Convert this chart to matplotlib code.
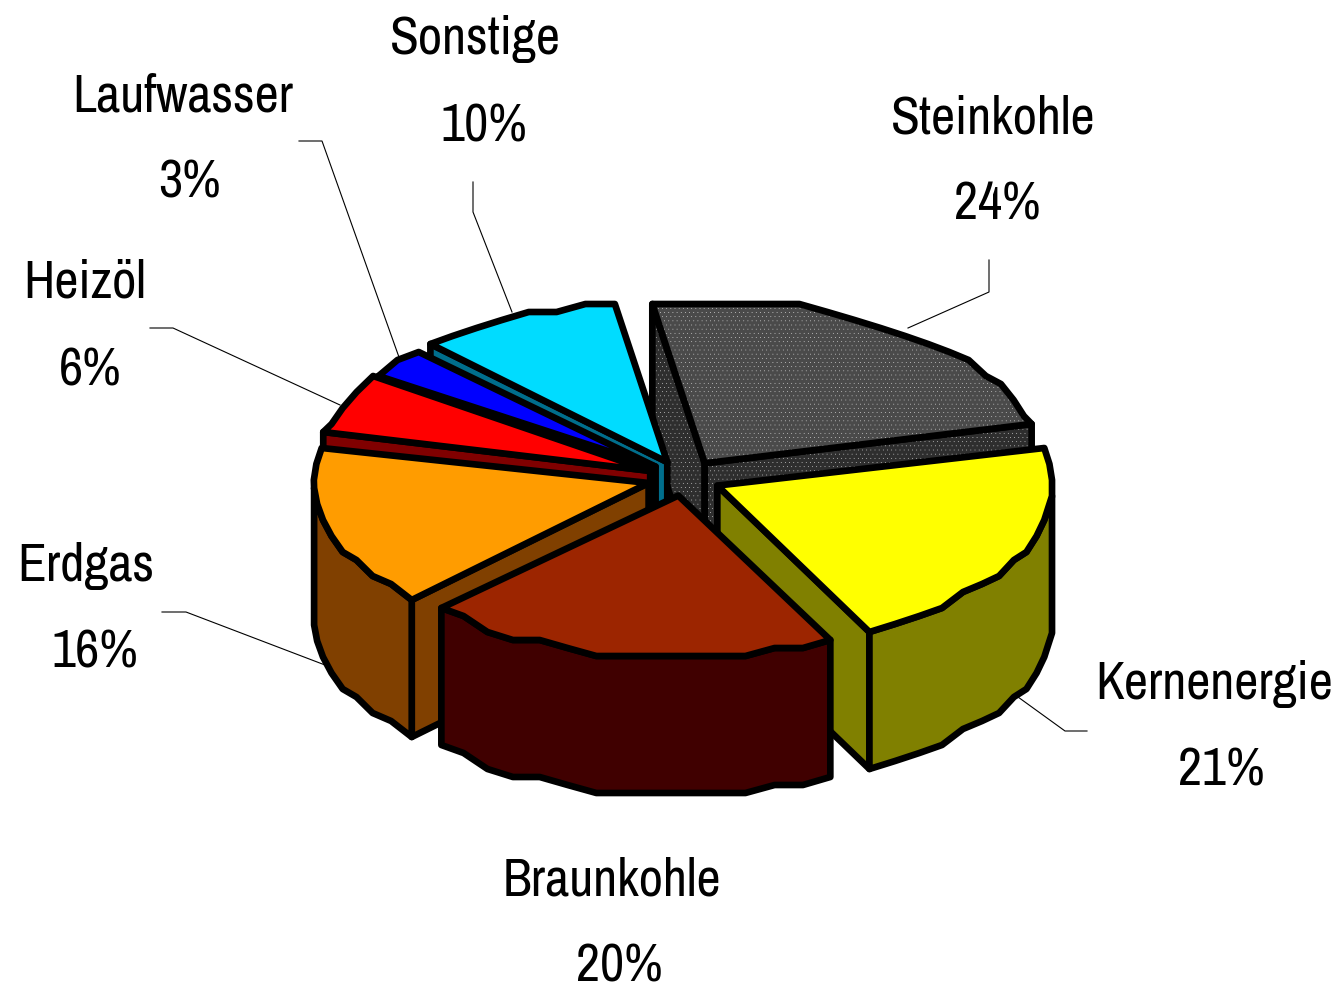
import numpy as np
import matplotlib
matplotlib.use("Agg")
import matplotlib.pyplot as plt
from matplotlib.patches import Polygon
from matplotlib import font_manager as fm

# ---- data ----
categories = ["Steinkohle", "Kernenergie", "Braunkohle", "Erdgas", "Heizöl", "Laufwasser", "Sonstige"]
shares = [24, 21, 20, 16, 6, 3, 10]

# ---- styles ----
top_colors = ["#4a4a4a", "#ffff00", "#9c2500", "#ff9c00", "#ff0000", "#0000ff", "#00dcff"]
side_colors = ["#2e2e2e", "#808000", "#400000", "#804000", "#800000", "#000080", "#006e8c"]
draw_order = [0, 6, 5, 4, 3, 1, 2]

W, H = 1336, 989
CX, CY = 684, 478
RX, RY = 335, 162
DEPTH = 137
EXPLODE = 0.11
START = 99.0
LW = 4.8

name_pos = [(993, 119), (1214, 684), (612, 880), (86, 566), (85, 283), (183, 96), (475, 39)]
pct_pos = [(997, 205), (1221, 771), (619, 966), (95, 652), (90, 370), (189, 182), (484, 126)]
leaders = [
    [(989, 260), (989, 292), (908, 328)],
    [(1087, 731), (1065, 731), (1018, 697)],
    None,
    [(162, 612), (186, 612), (325, 665)],
    [(150, 328), (173, 328), (340, 405)],
    [(299, 141), (322, 141), (400, 360)],
    [(473, 182), (473, 212), (512, 312)],
]

plt.rcParams["hatch.linewidth"] = 0.0
fig = plt.figure(figsize=(W / 100, H / 100), dpi=100)
ax = fig.add_axes([0, 0, 1, 1])
ax.set_xlim(0, W)
ax.set_ylim(H, 0)
ax.axis("off")


def quant(y):
    return np.round(y / 8.0) * 8.0


def add(pts, face, hatched):
    pts = np.asarray(pts)
    if hatched:
        ax.add_patch(Polygon(pts, closed=True, facecolor=face, edgecolor="#ffffff",
                             hatch="....", linewidth=0))
        ax.add_patch(Polygon(pts, closed=True, fill=False, edgecolor="black",
                             linewidth=LW, joinstyle="round"))
    else:
        ax.add_patch(Polygon(pts, closed=True, facecolor=face, edgecolor="black",
                             linewidth=LW, joinstyle="round"))


def draw_slice(a0, a1, top, side, hatched):
    mid = np.radians((a0 + a1) / 2)
    ax0 = CX + EXPLODE * RX * np.cos(mid)
    ay0 = CY - EXPLODE * RY * np.sin(mid)
    n = max(2, int(abs(a1 - a0) / 5) + 1)
    t = np.radians(np.linspace(a0, a1, n))
    xs = ax0 + RX * np.cos(t)
    ys = quant(ay0 - RY * np.sin(t))
    arc = np.column_stack([xs, ys])
    apex = np.array([ax0, ay0])
    down = np.array([0, DEPTH])
    # cut faces turned towards the viewer
    if np.sin(np.radians(a0 + 90)) < 0:
        add([apex, arc[0], arc[0] + down, apex + down], side, hatched)
    if np.sin(np.radians(a1 - 90)) < 0:
        add([apex, arc[-1], arc[-1] + down, apex + down], side, hatched)
    # outer rim: only the part turned towards the viewer
    front = np.sin(t) <= 0.02
    if front.sum() >= 2:
        rim = arc[front]
        add(np.vstack([rim, (rim + down)[::-1]]), side, hatched)
    add(np.vstack([[apex], arc]), top, hatched)


bounds = START - np.cumsum([0] + shares) * 3.6
for i in draw_order:
    draw_slice(bounds[i], bounds[i + 1], top_colors[i], side_colors[i], i == 0)

for pts in leaders:
    if pts is not None:
        p = np.array(pts)
        ax.plot(p[:, 0], p[:, 1], color="black", lw=0.8, solid_joinstyle="miter", zorder=0.5)

installed = {f.name for f in fm.fontManager.ttflist}
if "Archivo Narrow" in installed:
    font_family, font_size = ["Archivo Narrow", "Liberation Sans"], 38
else:
    font_family, font_size = ["Liberation Sans"], 32
font = dict(family=font_family, fontsize=font_size, color="black", ha="center", va="center")
for name, v, np_, pp in zip(categories, shares, name_pos, pct_pos):
    ax.text(*np_, name, **font)
    ax.text(*pp, f"{v}%", **font)

fig.savefig("out.png", dpi=100, facecolor="white")
